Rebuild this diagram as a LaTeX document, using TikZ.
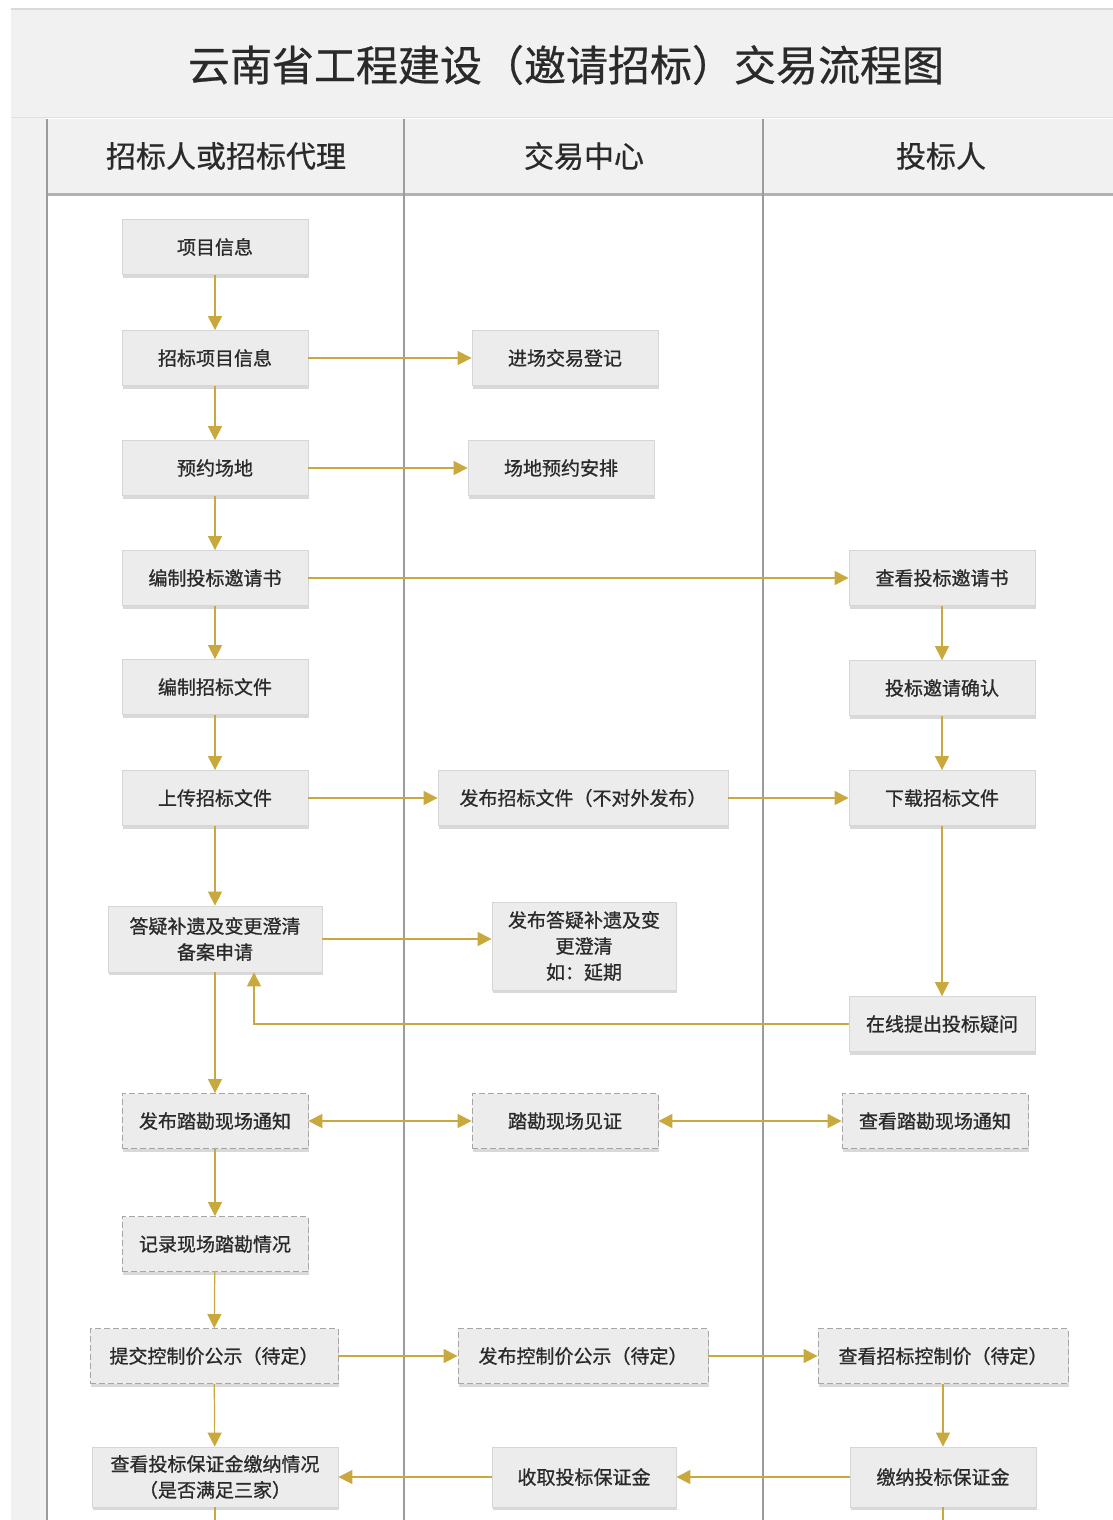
\documentclass[tikz,border=0pt]{standalone}
\usepackage{fontspec}
\setmainfont{Noto Sans CJK SC}
\newfontfamily\boxfont{Noto Sans CJK SC}[FakeBold=0.9]
\newfontfamily\headfont{Noto Sans CJK SC}[FakeBold=0.6]
\usetikzlibrary{arrows.meta,shadows}
\definecolor{flowgold}{HTML}{C9A83E}
\definecolor{boxfill}{HTML}{ECECEC}
\definecolor{boxline}{HTML}{D6D6D6}
\definecolor{laneline}{HTML}{9C9C9C}
\definecolor{bandfill}{HTML}{F1F1F1}
\definecolor{txtdark}{HTML}{2A2A2A}
\tikzset{
  stepbox/.style={draw=boxline, line width=0.8pt, fill=boxfill, text=txtdark,
    minimum width=186pt, minimum height=55pt, align=center, inner sep=2pt,
    font=\boxfont\fontsize{19pt}{26pt}\selectfont,
    drop shadow={shadow xshift=1pt, shadow yshift=-3pt, opacity=0.15, fill=black}},
  dashbox/.style={stepbox, draw=black!35, dashed, dash pattern=on 6pt off 3pt},
  flow/.style={draw=flowgold, line width=1.2pt, -{Triangle[length=14pt,width=14pt]}},
  flowboth/.style={draw=flowgold, line width=1.2pt, {Triangle[length=14pt,width=14pt]}-{Triangle[length=14pt,width=14pt]}},
  flowline/.style={draw=flowgold, line width=1.2pt},
  lanetitle/.style={font=\headfont\fontsize{30pt}{34pt}\selectfont, text=txtdark}
}
\begin{document}
\begin{tikzpicture}[x=1pt,y=-1pt]
\useasboundingbox (0,0) rectangle (1113,1520);
\fill[white] (0,0) rectangle (1113,1520);
% title band
\fill[bandfill] (11,10) rectangle (1113,117);
\draw[black!15, line width=2pt] (11,9) -- (1113,9);
\draw[black!12, line width=1pt] (11,117) -- (1113,117);
\node[font=\headfont\fontsize{42pt}{46pt}\selectfont, text=txtdark] (title) at (566,65) {云南省工程建设（邀请招标）交易流程图};
% gutter and header
\fill[bandfill] (11,118) rectangle (46,1520);
\fill[bandfill] (48,119) rectangle (1113,193);
\draw[black!30, line width=3pt] (48,194.5) -- (1113,194.5);
\foreach \xx in {47,404,763} {\draw[laneline, line width=1.5pt] (\xx,119) -- (\xx,1520);}
\node[lanetitle] (h1) at (226,156) {招标人或招标代理};
\node[lanetitle] (h2) at (584,156) {交易中心};
\node[lanetitle] (h3) at (941,156) {投标人};
% lane 1
\node[stepbox] (n1) at (215,247) {项目信息};
\node[stepbox] (n2) at (215,358) {招标项目信息};
\node[stepbox] (n3) at (215,468) {预约场地};
\node[stepbox] (n4) at (215,578) {编制投标邀请书};
\node[stepbox] (n5) at (215,687) {编制招标文件};
\node[stepbox] (n6) at (215,798) {上传招标文件};
\node[stepbox, minimum width=214pt, minimum height=66pt] (n7) at (215,939) {答疑补遗及变更澄清\\备案申请};
\node[dashbox] (n8) at (215,1121) {发布踏勘现场通知};
\node[dashbox] (n9) at (215,1244) {记录现场踏勘情况};
\node[dashbox, minimum width=248pt] (n10) at (214,1356) {提交控制价公示（待定）};
\node[stepbox, minimum width=246pt, minimum height=60pt] (n11) at (215,1477) {查看投标保证金缴纳情况\\（是否满足三家）};
% lane 2
\node[stepbox] (m1) at (565,358) {进场交易登记};
\node[stepbox] (m2) at (561,468) {场地预约安排};
\node[stepbox, minimum width=290pt] (m3) at (583,798) {发布招标文件（不对外发布）};
\node[stepbox, minimum width=184pt, minimum height=88pt] (m4) at (584,946) {发布答疑补遗及变\\更澄清\\如：延期};
\node[dashbox] (m5) at (565,1121) {踏勘现场见证};
\node[dashbox, minimum width=250pt] (m6) at (583,1356) {发布控制价公示（待定）};
\node[stepbox, minimum width=184pt, minimum height=60pt] (m7) at (584,1477) {收取投标保证金};
% lane 3
\node[stepbox] (r1) at (942,578) {查看投标邀请书};
\node[stepbox] (r2) at (942,688) {投标邀请确认};
\node[stepbox] (r3) at (942,798) {下载招标文件};
\node[stepbox] (r4) at (942,1024) {在线提出投标疑问};
\node[dashbox] (r5) at (935,1121) {查看踏勘现场通知};
\node[dashbox, minimum width=250pt] (r6) at (943,1356) {查看招标控制价（待定）};
\node[stepbox, minimum height=60pt] (r7) at (943,1477) {缴纳投标保证金};
% connectors lane 1 vertical
\draw[flow] (n1) -- (n2);
\draw[flow] (n2) -- (n3);
\draw[flow] (n3) -- (n4);
\draw[flow] (n4) -- (n5);
\draw[flow] (n5) -- (n6);
\draw[flow] (n6) -- (n7);
\draw[flow] (n7) -- (n8);
\draw[flow] (n8) -- (n9);
\draw[flow] (n9) -- (n10);
\draw[flow] (n10) -- (n11);
% horizontal
\draw[flow] (n2) -- (m1);
\draw[flow] (n3) -- (m2);
\draw[flow] (n4) -- (r1);
\draw[flow] (n6) -- (m3);
\draw[flow] (m3) -- (r3);
\draw[flow] (n7.east) -- (n7.east -| m4.west);
\draw[flowboth] (n8) -- (m5);
\draw[flowboth] (m5) -- (r5);
\draw[flow] (n10) -- (m6);
\draw[flow] (m6) -- (r6);
\draw[flow] (r7) -- (m7);
\draw[flow] (m7) -- (n11);
% lane 3 vertical
\draw[flow] (r1) -- (r2);
\draw[flow] (r2) -- (r3);
\draw[flow] (r3) -- (r4);
\draw[flow] (r6.south -| r7.north) -- (r7);
% feedback
\coordinate (fb) at (254,1024);
\draw[flow] (r4.west) -- (fb) -- (fb |- n7.south);
% continuing off the bottom
\coordinate (e1) at (215,1520);
\coordinate (e2) at (943,1520);
\draw[flowline] (n11.south) -- (e1);
\draw[flowline] (r7.south) -- (e2);
\end{tikzpicture}
\end{document}
